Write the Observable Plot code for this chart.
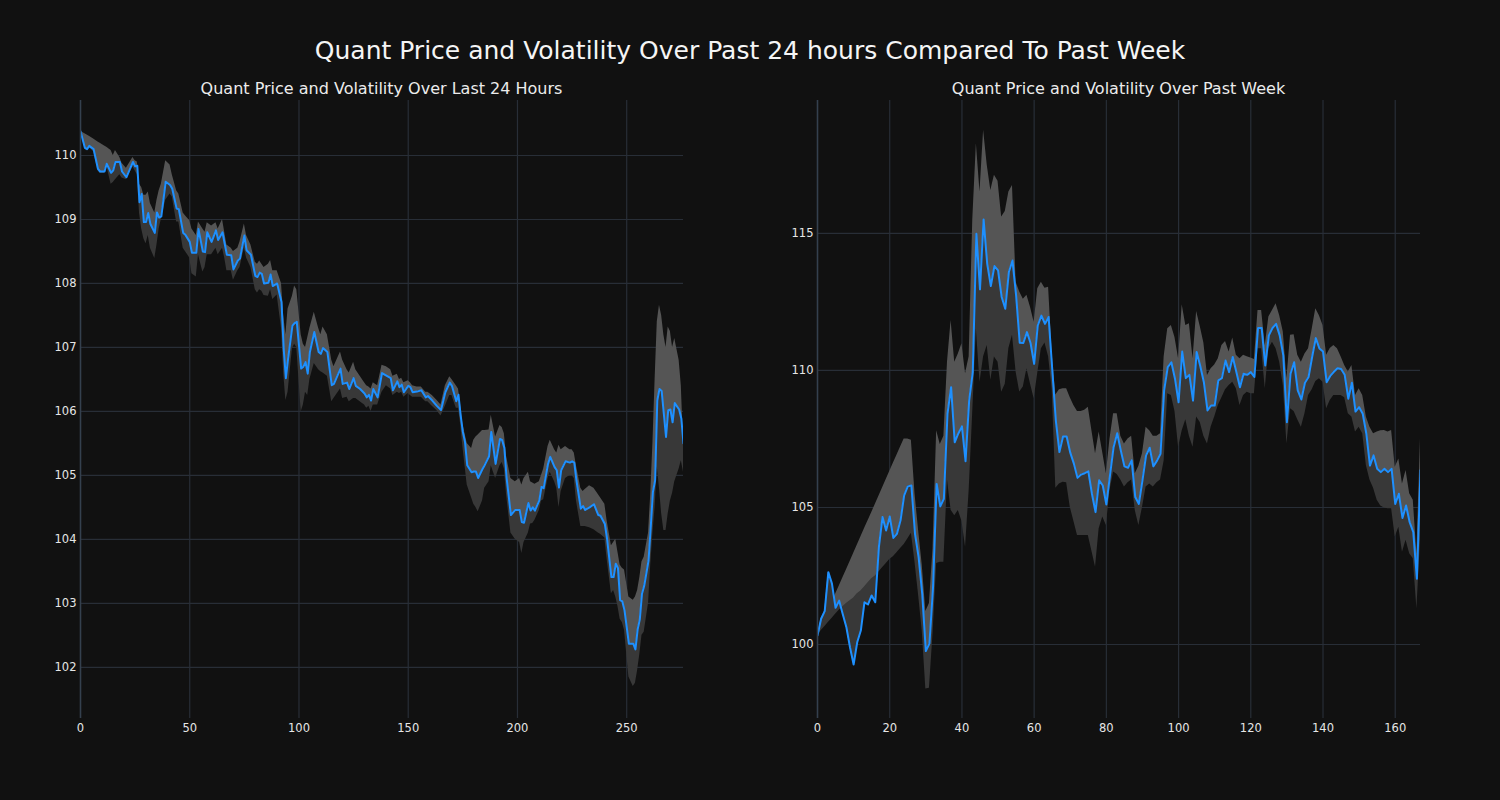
<!DOCTYPE html>
<html><head><meta charset="utf-8">
<script src="https://cdn.jsdelivr.net/npm/d3@7"></script>
<script src="https://cdn.jsdelivr.net/npm/@observablehq/plot@0.6"></script>
<style>
body{margin:0;background:#111111;}
#fig{position:relative;width:1500px;height:800px;background:#111111;font-family:"DejaVu Sans",sans-serif;overflow:hidden;}
.t{position:absolute;white-space:nowrap;transform:translateX(-50%);color:#f2f2f2;}
.p{position:absolute;top:0;}
</style></head><body><div id="fig"></div>
<script>
// ---------- Left panel: last 24 hours (5-minute index) ----------
const dayX = [0,2,3,4,6,8,9,11,12,14,15,16,18,19,21,24,25,26,27,28,29,30,31,32,34,35,36,37,39,41,42,44,45,47,48,50,51,53,54,56,57,58,60,62,63,65,66,67,69,70,72,73,75,76,78,80,81,82,83,84,86,87,88,90,92,93,94,95,97,98,99,101,102,103,104,105,107,109,110,111,113,115,116,119,120,122,123,125,126,128,130,131,132,133,134,136,138,140,142,143,145,146,147,148,150,151,152,154,156,158,159,161,163,165,167,169,170,172,173,174,175,176,177,179,180,181,182,184,185,187,188,190,192,193,194,195,197,199,201,202,203,205,206,207,208,210,211,212,214,215,217,218,219,220,222,224,225,226,227,229,230,231,233,235,237,238,240,241,243,244,245,246,247,248,249,251,253,254,255,256,257,258,260,261,262,263,264,265,266,267,268,269,270,271,272,274,275,276];
const dayPrice = [110.38,110.12,110.10,110.15,110.10,109.79,109.75,109.75,109.87,109.73,109.77,109.90,109.90,109.75,109.66,109.90,109.83,109.84,109.27,109.40,108.96,108.96,109.10,108.93,108.79,109.11,109.03,109.05,109.59,109.54,109.48,109.17,109.16,108.79,108.76,108.65,108.48,108.48,108.85,108.50,108.49,108.80,108.65,108.83,108.68,108.80,108.62,108.45,108.44,108.22,108.36,108.39,108.75,108.52,108.45,108.12,108.10,108.17,108.15,108.00,108.01,108.14,107.96,108.00,107.71,106.98,106.52,106.82,107.34,107.38,107.40,106.67,106.70,106.77,106.59,106.93,107.24,106.93,106.90,106.99,106.93,106.41,106.43,106.67,106.43,106.45,106.35,106.52,106.40,106.35,106.28,106.22,106.26,106.17,106.35,106.22,106.60,106.56,106.52,106.33,106.47,106.38,106.42,106.30,106.40,106.38,106.30,106.31,106.33,106.22,106.24,106.17,106.09,106.02,106.30,106.45,106.40,106.16,106.26,105.94,105.68,105.52,105.16,105.05,105.06,105.06,104.96,105.10,105.16,105.30,105.68,105.18,105.57,105.55,105.43,104.97,104.38,104.46,104.46,104.27,104.26,104.57,104.45,104.50,104.45,104.61,104.82,104.80,105.18,105.29,105.13,105.08,104.81,105.08,105.22,105.20,105.22,105.20,104.92,104.48,104.52,104.46,104.50,104.55,104.38,104.37,104.24,104.01,103.41,103.41,103.62,103.55,103.05,103.03,102.89,102.37,102.37,102.28,102.59,102.75,103.15,103.27,103.67,104.19,104.74,104.92,106.17,106.35,106.32,105.96,105.60,106.02,106.03,105.83,106.13,106.03,105.89,105.50];
const dayUpper = [110.38,110.34,110.32,110.30,110.26,110.21,110.19,110.15,110.13,110.08,110.00,110.08,109.97,109.88,109.80,109.97,109.92,109.90,109.55,109.50,109.38,109.38,109.43,109.25,109.10,109.30,109.45,109.55,109.92,109.85,109.70,109.45,109.40,109.10,109.06,108.98,108.85,108.75,108.96,108.85,108.80,108.95,108.90,108.95,108.85,109.00,108.80,108.60,108.55,108.50,108.55,108.65,108.93,108.75,108.60,108.33,108.30,108.35,108.30,108.25,108.30,108.36,108.20,108.20,108.00,107.50,107.20,107.60,107.80,107.96,107.90,107.20,107.05,107.00,107.15,107.30,107.55,107.30,107.20,107.32,107.20,106.80,106.70,106.93,106.80,106.65,106.60,106.77,106.65,106.55,106.45,106.40,106.38,106.35,106.45,106.40,106.72,106.70,106.65,106.55,106.58,106.50,106.52,106.45,106.48,106.45,106.40,106.38,106.38,106.30,106.30,106.25,106.18,106.10,106.40,106.54,106.50,106.40,106.35,106.10,105.80,105.65,105.50,105.42,105.55,105.60,105.63,105.70,105.70,105.71,105.94,105.60,105.78,105.75,105.65,105.30,104.95,104.90,104.95,104.85,104.95,105.05,104.90,104.88,104.86,104.90,105.00,105.10,105.45,105.55,105.40,105.35,105.47,105.40,105.45,105.40,105.40,105.35,105.15,104.80,104.75,104.78,104.84,104.80,104.70,104.65,104.55,104.30,103.90,103.95,104.00,103.80,103.60,103.55,103.52,103.10,103.05,103.10,103.20,103.40,103.65,103.72,104.10,104.70,105.50,106.50,107.40,107.66,107.50,107.20,107.00,107.32,107.25,107.00,107.14,106.80,106.40,105.50];
const dayLower = [110.38,110.10,110.08,110.12,110.06,109.76,109.72,109.72,109.84,109.55,109.58,109.62,109.70,109.65,109.62,109.82,109.76,109.70,109.10,108.85,108.70,108.62,108.75,108.55,108.39,108.60,108.85,109.00,109.30,109.40,109.35,108.96,108.96,108.55,108.50,108.40,108.15,108.10,108.45,108.18,108.25,108.45,108.45,108.55,108.45,108.55,108.40,108.20,108.20,108.05,108.20,108.25,108.55,108.40,108.25,107.90,107.85,107.90,107.88,107.81,107.80,107.90,107.75,107.82,107.30,106.60,106.17,106.30,106.98,107.05,107.00,105.99,106.10,106.30,106.25,106.50,106.75,106.65,106.62,106.60,106.55,106.15,106.20,106.35,106.20,106.22,106.15,106.20,106.20,106.15,106.10,106.05,106.08,106.00,106.10,106.10,106.30,106.40,106.35,106.25,106.30,106.28,106.30,106.22,106.28,106.25,106.22,106.22,106.22,106.15,106.15,106.08,106.02,105.93,106.08,106.25,106.25,106.05,106.05,105.80,105.45,105.15,104.85,104.65,104.55,104.50,104.43,104.60,104.80,104.90,105.15,104.95,105.15,105.20,105.10,104.70,104.10,104.00,103.95,103.78,103.95,104.10,104.24,104.25,104.30,104.45,104.60,104.62,104.95,105.05,104.90,104.80,104.50,104.75,104.95,105.00,105.00,104.95,104.60,104.20,104.20,104.20,104.18,104.15,104.10,104.08,104.02,103.70,103.15,103.20,103.10,102.95,102.75,102.70,102.58,101.85,101.70,101.75,101.95,102.20,102.50,102.55,103.00,103.60,104.10,104.50,105.13,104.80,104.40,104.14,104.14,104.40,104.60,104.72,104.90,105.10,105.23,105.05];
const dayXTicks = [0,50,100,150,200,250];
const dayYTicks = [102,103,104,105,106,107,108,109,110];

// ---------- Right panel: past week (hourly index) ----------
const weekX = d3.range(0,168);
const weekPrice = [100.33,100.94,101.22,102.64,102.22,101.34,101.60,101.10,100.63,99.90,99.27,100.08,100.51,101.54,101.46,101.79,101.54,103.55,104.65,104.16,104.67,103.89,104.04,104.53,105.44,105.77,105.80,104.04,103.19,101.85,99.76,100.03,102.09,105.86,105.04,105.32,108.42,109.39,107.38,107.70,107.96,106.69,108.90,109.94,114.99,112.96,115.51,113.89,113.08,113.81,113.65,112.68,112.25,113.59,114.01,112.74,111.01,111.00,111.40,111.00,110.24,111.64,112.00,111.70,111.95,110.06,108.18,107.02,107.59,107.59,107.00,106.60,106.08,106.20,106.25,106.32,105.50,104.83,105.99,105.80,105.11,106.17,107.20,107.71,107.08,106.50,106.45,106.72,105.38,105.13,105.99,106.90,107.18,106.50,106.70,106.96,109.27,110.12,110.30,109.70,108.84,110.69,109.72,109.84,108.90,110.67,110.16,109.57,108.54,108.72,108.72,109.64,109.72,110.36,109.94,110.49,109.94,109.39,109.88,109.84,109.94,109.76,111.55,111.55,110.18,111.28,111.55,111.70,111.28,110.55,108.11,109.88,110.30,109.27,108.94,109.55,109.76,110.50,111.18,110.80,110.69,109.57,109.80,109.95,110.08,110.05,109.84,108.97,109.55,108.50,108.66,108.42,107.69,106.53,106.90,106.41,106.29,106.41,106.29,106.41,105.13,105.50,104.62,105.07,104.46,104.10,102.40,106.35];
const weekUpper = [100.33,100.63,100.93,101.23,101.53,101.83,102.13,102.43,102.72,103.02,103.32,103.62,103.92,104.22,104.52,104.81,105.11,105.41,105.71,106.01,106.31,106.61,106.91,107.21,107.50,107.50,107.45,105.50,104.16,102.90,101.20,101.50,103.50,107.80,107.30,107.60,110.30,111.82,110.30,110.60,110.97,109.88,110.50,115.50,118.27,116.51,118.76,117.50,116.57,117.12,116.90,115.60,115.80,116.51,116.75,113.22,112.86,112.60,112.74,112.30,111.76,112.98,113.22,113.00,113.04,110.60,109.10,109.30,109.33,109.33,109.00,108.72,108.50,108.50,108.55,108.66,107.80,106.96,107.75,107.00,106.23,107.50,108.42,108.42,107.60,107.32,107.50,107.60,106.23,106.50,106.96,107.93,107.80,107.60,107.60,107.69,110.50,111.52,111.64,111.20,110.43,112.40,111.64,111.70,110.43,112.15,111.60,111.00,109.82,110.06,110.20,110.43,110.91,111.06,110.67,111.18,110.55,110.43,110.55,110.50,110.45,110.40,112.19,112.19,110.90,111.95,112.19,112.43,112.00,111.40,109.70,111.28,111.30,110.55,110.30,110.60,110.79,111.50,112.25,112.00,111.64,110.55,110.80,110.91,110.79,110.50,110.18,109.94,110.18,109.09,109.33,109.09,108.30,107.93,107.69,107.75,107.80,107.81,107.75,107.81,106.47,106.77,105.86,106.35,105.50,105.26,103.31,107.51];
const weekLower = [100.33,100.50,100.65,100.80,100.95,101.10,101.25,101.38,101.50,101.60,101.70,101.85,101.95,102.10,102.25,102.40,102.50,102.65,102.80,102.95,103.10,103.20,103.35,103.50,103.65,103.85,104.06,103.00,101.80,100.50,98.38,98.40,100.40,102.96,103.00,103.00,106.00,104.90,104.70,104.89,104.50,103.55,105.62,108.50,111.50,109.57,110.50,110.91,109.64,110.49,110.30,109.20,109.50,110.80,111.28,109.94,109.21,109.40,110.06,109.50,108.97,109.90,110.79,111.00,110.50,109.30,105.70,105.86,105.92,105.90,105.01,104.50,103.98,103.98,103.98,103.98,103.40,102.82,104.22,104.65,104.34,105.62,106.29,106.20,106.00,105.75,105.90,106.00,104.89,104.34,105.00,105.75,105.86,105.75,105.90,106.00,106.70,109.15,109.09,108.50,107.20,107.80,108.20,107.60,107.20,108.30,108.10,107.60,107.32,107.93,108.30,108.72,109.00,109.30,109.45,109.57,109.33,108.72,109.09,109.20,109.15,109.15,110.79,110.79,109.33,110.79,111.03,110.79,110.30,109.45,107.32,108.60,108.50,108.20,107.93,108.42,109.09,109.30,109.60,109.70,109.57,108.60,108.90,109.09,109.09,109.09,109.00,108.42,108.30,107.75,107.93,107.69,106.53,106.00,105.70,105.26,105.05,104.98,104.95,104.95,103.92,104.28,103.37,103.80,103.31,103.13,101.30,103.80];
const weekXTicks = [0,20,40,60,80,100,120,140,160];
const weekYTicks = [100,105,110,115];

const mainTitle = "Quant Price and Volatility Over Past 24 hours Compared To Past Week";
const leftTitle = "Quant Price and Volatility Over Last 24 Hours";
const rightTitle = "Quant Price and Volatility Over Past Week";

function panel(X, P, U, L, xDomain, yDomain, xTicks, yTicks) {
  const rows = X.map((x, i) => ({x, p: P[i], u: U[i], l: L[i]}));
  return Plot.plot({
    width: 700, height: 800,
    marginLeft: 80, marginRight: 17, marginTop: 100, marginBottom: 82,
    style: {background: "transparent", color: "#e6e6e6", fontFamily: "DejaVu Sans, sans-serif", fontSize: "11.5px"},
    x: {domain: xDomain},
    y: {domain: yDomain},
    marks: [
      Plot.gridX(xTicks, {stroke: "#282e37", strokeOpacity: 1, strokeWidth: 1.2}),
      Plot.gridY(yTicks, {stroke: "#282e37", strokeOpacity: 1, strokeWidth: 1.2}),
      Plot.areaY(rows, {x: "x", y1: "p", y2: "u", fill: "#555555", clip: true}),
      Plot.areaY(rows, {x: "x", y1: "l", y2: "p", fill: "#383838", clip: true}),
      Plot.lineY(rows, {x: "x", y: "p", stroke: "#1e90ff", strokeWidth: 2, clip: true}),
      Plot.ruleX([xDomain[0]], {stroke: "#34404e", strokeWidth: 1.5}),
      Plot.axisX(xTicks, {tickSize: 0, tickPadding: 5, label: null, fill: "#e6e6e6", tickFormat: d => String(d)}),
      Plot.axisY(yTicks, {tickSize: 0, tickPadding: 4, label: null, fill: "#e6e6e6", tickFormat: d => String(d)})
    ]
  });
}

const fig = document.getElementById("fig");
function addText(txt, cx, top, size, color) {
  const d = document.createElement("div");
  d.className = "t";
  d.textContent = txt;
  d.style.left = cx + "px";
  d.style.top = top + "px";
  d.style.fontSize = size + "px";
  d.style.lineHeight = size + "px";
  if (color) d.style.color = color;
  fig.appendChild(d);
}
const left = panel(dayX, dayPrice, dayUpper, dayLower, [0, 276], [101.2, 110.86], dayXTicks, dayYTicks);
left.classList.add("p"); left.style.left = "0px";
fig.appendChild(left);
const right = panel(weekX, weekPrice, weekUpper, weekLower, [0, 167], [97.3, 119.85], weekXTicks, weekYTicks);
right.classList.add("p"); right.style.left = "737px";
fig.appendChild(right);

addText(mainTitle, 750, 38, 25, "#f5f5f5");
addText(leftTitle, 381.5, 81, 16, "#ececec");
addText(rightTitle, 1118.5, 81, 16, "#ececec");
</script></body></html>
